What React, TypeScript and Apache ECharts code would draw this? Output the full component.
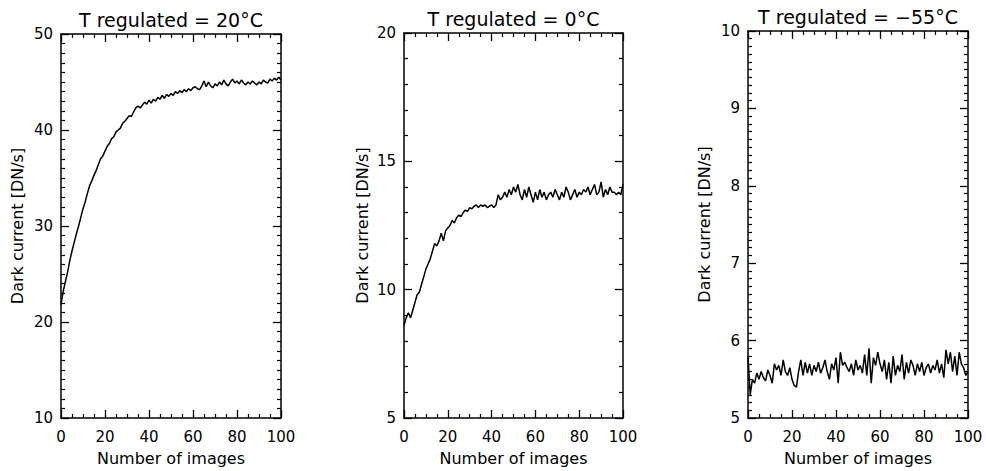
import React, { useEffect, useRef } from "react";
import * as echarts from "echarts";

const titles = ["T regulated = 20°C", "T regulated = 0°C", "T regulated = \u221255°C"];
const xName = "Number of images";
const yName = "Dark current [DN/s]";

const xTicks = [0, 20, 40, 60, 80, 100];

const dark20 = [
  21.8, 23.2, 24.2, 25.2, 26.4, 27.4, 28.3, 29.2, 30.0, 30.9,
  31.8, 32.5, 33.4, 34.2, 34.7, 35.3, 35.8, 36.4, 37.0, 37.3,
  37.8, 38.3, 38.6, 39.1, 39.3, 39.8, 40.0, 40.2, 40.7, 40.9,
  41.2, 41.5, 41.4, 41.9, 42.3, 42.5, 42.3, 42.6, 42.9, 42.7,
  43.1, 42.8, 43.2, 43.0, 43.4, 43.2, 43.6, 43.3, 43.7, 43.5,
  43.8, 43.6, 44.0, 43.8, 44.1, 43.9, 44.2, 44.0, 44.3, 44.1,
  44.4, 44.5, 44.3, 44.2, 44.6, 45.1, 44.5, 45.0, 44.6, 44.4,
  44.8, 44.6, 45.0, 44.7, 45.2, 44.8, 44.6, 45.0, 45.3, 44.9,
  45.1, 44.8, 45.2, 44.9, 44.7, 45.0, 44.8, 45.1, 44.9, 44.7,
  45.0, 44.8, 45.2, 45.0, 44.9, 45.3, 45.1, 45.4, 45.2, 45.5,
  45.2,
];

const dark0 = [
  8.6, 8.9, 9.1, 8.9, 9.2, 9.5, 9.8, 9.9, 10.2, 10.5,
  10.8, 11.0, 11.2, 11.5, 11.8, 11.7, 11.9, 12.2, 11.9, 12.3,
  12.4, 12.5, 12.7, 12.6, 12.8, 12.9, 12.85, 13.0, 13.1, 13.05,
  13.2, 13.15, 13.25, 13.3, 13.2, 13.3, 13.25, 13.3, 13.2, 13.25,
  13.3, 13.2, 13.3, 13.7, 13.5, 13.6, 13.8, 13.6, 13.9, 13.7,
  14.0, 13.8, 14.1, 13.7, 13.5, 13.9, 13.6, 14.0, 13.7, 13.4,
  13.8, 13.5, 13.9, 13.6, 13.8, 13.5, 13.7, 13.8, 13.6, 13.9,
  13.7, 13.5, 13.8, 13.6, 14.0, 13.8, 13.5, 13.7, 13.9, 13.6,
  13.8, 13.7, 13.9, 13.8, 14.0, 13.7, 13.9, 14.1, 13.7, 13.8,
  14.2, 13.6, 13.9, 13.7, 14.0, 13.8, 13.8, 13.7, 13.8, 13.7,
  14.1,
];

const darkM55 = [
  5.8, 5.3, 5.5, 5.45, 5.58, 5.5, 5.6, 5.52, 5.48, 5.62,
  5.55, 5.45, 5.7, 5.62, 5.68, 5.55, 5.75, 5.6, 5.55, 5.65,
  5.5, 5.42, 5.4, 5.6, 5.75, 5.55, 5.72, 5.58, 5.7, 5.55,
  5.68, 5.6, 5.72, 5.58, 5.65, 5.75, 5.6, 5.5, 5.7, 5.62,
  5.78, 5.45, 5.85, 5.68, 5.72, 5.65, 5.6, 5.7, 5.55, 5.75,
  5.62, 5.68, 5.58, 5.82, 5.55, 5.9, 5.45, 5.78, 5.68, 5.85,
  5.7, 5.6, 5.75, 5.5, 5.72, 5.45, 5.8, 5.55, 5.68, 5.6,
  5.82, 5.5, 5.72, 5.58, 5.75, 5.68, 5.55, 5.7, 5.6, 5.72,
  5.55, 5.65, 5.7, 5.58, 5.68, 5.62, 5.75, 5.58, 5.7, 5.52,
  5.88, 5.7, 5.85, 5.6, 5.8, 5.55, 5.85, 5.7, 5.65, 5.55,
  5.6,
];

const yMins = [10, 5, 5];
const yMaxs = [50, 20, 10];
const yIntervals = [10, 5, 1];
const yMinorSplits = [10, 5, 10];
const seriesData = [dark20, dark0, darkM55];

const FONT = "DejaVu Sans";

export default function App() {
  const ref = useRef<HTMLDivElement>(null);
  useEffect(() => {
    if (!ref.current) return;
    const chart = echarts.init(ref.current, null, { renderer: "svg" });
    const grids = [
      { left: 61, top: 34, width: 220, height: 387 },
      { left: 404, top: 33, width: 219, height: 387 },
      { left: 748, top: 31, width: 220, height: 387 },
    ];
    const yNameGaps = [36, 34, 36];
    const line = { lineStyle: { color: "#000", width: 1.5 }, onZero: false };
    const xAxes: any[] = [];
    const yAxes: any[] = [];
    const series: any[] = [];
    grids.forEach((g, i) => {
      const commonX = {
        type: "value",
        gridIndex: i,
        min: xTicks[0],
        max: xTicks[xTicks.length - 1],
        interval: 20,
        axisLine: { show: true, ...line },
        axisTick: { show: true, inside: true, length: 8, lineStyle: { color: "#000", width: 1.3 } },
        minorTick: { show: true, splitNumber: 4, length: 4, lineStyle: { color: "#000", width: 1.2 } },
        splitLine: { show: false },
      };
      xAxes.push({
        ...commonX,
        position: "bottom",
        name: xName,
        nameLocation: "middle",
        nameGap: 32,
        nameTextStyle: { fontFamily: FONT, fontSize: 16, color: "#000" },
        axisLabel: { fontFamily: FONT, fontSize: 15, color: "#000", margin: 11 },
      });
      xAxes.push({
        ...commonX,
        position: "top",
        name: titles[i],
        nameLocation: "middle",
        nameGap: 5,
        nameTextStyle: { fontFamily: FONT, fontSize: 19, color: "#000", verticalAlign: "bottom" },
        axisLabel: { show: false },
      });
      const commonY = {
        type: "value",
        gridIndex: i,
        min: yMins[i],
        max: yMaxs[i],
        interval: yIntervals[i],
        axisLine: { show: true, ...line },
        axisTick: { show: true, inside: true, length: 8, lineStyle: { color: "#000", width: 1.3 } },
        minorTick: { show: true, splitNumber: yMinorSplits[i], length: 4, lineStyle: { color: "#000", width: 1.2 } },
        splitLine: { show: false },
      };
      yAxes.push({
        ...commonY,
        position: "left",
        name: yName,
        nameLocation: "middle",
        nameGap: yNameGaps[i],
        nameRotate: 90,
        nameTextStyle: { fontFamily: FONT, fontSize: 16, color: "#000" },
        axisLabel: { fontFamily: FONT, fontSize: 15, color: "#000", margin: 8 },
      });
      yAxes.push({
        ...commonY,
        position: "right",
        axisLabel: { show: false },
      });
      series.push({
        type: "line",
        xAxisIndex: 2 * i,
        yAxisIndex: 2 * i,
        showSymbol: false,
        symbol: "none",
        lineStyle: { color: "#000", width: 1.5 },
        data: seriesData[i].map((v, k) => [k, v]),
      });
    });
    chart.setOption({
      animation: false,
      backgroundColor: "#fff",
      textStyle: { fontFamily: FONT },
      grid: grids,
      xAxis: xAxes,
      yAxis: yAxes,
      series,
    });
    return () => chart.dispose();
  }, []);
  return (
    <div
      ref={ref}
      style={{ position: "absolute", left: 0, top: 0, width: 986, height: 471, background: "#fff" }}
    />
  );
}
